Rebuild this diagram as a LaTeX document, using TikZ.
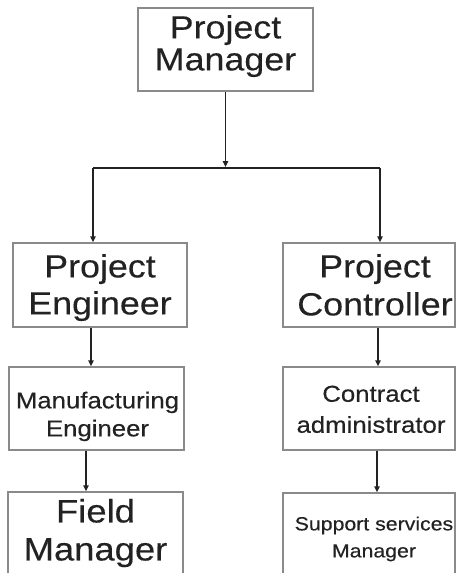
\documentclass[tikz,border=0pt]{standalone}
\usepackage{fontspec}
\usetikzlibrary{arrows.meta,calc}
\newfontfamily\labfont[FakeStretch=1.12,FakeBold=0.3]{Liberation Sans}
\definecolor{boxgray}{HTML}{8A8A8A}
\definecolor{inkc}{HTML}{222222}
\tikzset{
  orgbox/.style={draw=boxgray, line width=1.5pt, fill=white, rectangle, inner sep=0pt},
  txt/.style={text=inkc, inner sep=0pt, align=center, anchor=north},
  conn/.style={draw=inkc, line width=1.7pt, -{Triangle[length=6pt,width=5.5pt]}},
  busline/.style={draw=inkc, line width=2.8pt},
  drop/.style={draw=inkc, line width=2.1pt, -{Triangle[length=6pt,width=5.5pt]}},
}
\begin{document}
\begin{tikzpicture}[x=1pt,y=-1pt]
\useasboundingbox (0,0) rectangle (457,573);
\clip (0,0) rectangle (457,573);
% boxes
\node[orgbox, minimum width=175pt, minimum height=83pt] (pm) at (225.5,49.5) {};
\node[orgbox, minimum width=174pt, minimum height=84pt] (pe) at (100,285) {};
\node[orgbox, minimum width=172pt, minimum height=84pt] (pc) at (369,285) {};
\node[orgbox, minimum width=175pt, minimum height=83pt] (me) at (96.5,408.5) {};
\node[orgbox, minimum width=172pt, minimum height=83pt] (ca) at (369,408.5) {};
\node[orgbox, minimum width=175pt, minimum height=83pt] (fm) at (95.5,533.5) {};
\node[orgbox, minimum width=172pt, minimum height=83pt] (ssm) at (369,534.5) {};
% texts
\node[txt, font={\labfont\fontsize{32}{32}\selectfont}] (pmt) at (225.5,15) {Project\\Manager};
\node[txt, font={\labfont\fontsize{32}{37}\selectfont}] (pet) at (100,254) {Project\\Engineer};
\node[txt, font={\labfont\fontsize{32}{38}\selectfont}] (pct) at (375,254) {Project\\Controller};
\node[txt, font={\labfont\fontsize{23}{28}\selectfont}] (met) at (97.5,391.5) {Manufacturing\\Engineer};
\node[txt, font={\labfont\fontsize{23}{31}\selectfont}] (cat) at (371,385.5) {Contract\\administrator};
\node[txt, font={\labfont\fontsize{32.5}{38}\selectfont}] (fmt) at (95.5,498.7) {Field\\Manager};
\node[txt, font={\labfont\fontsize{19}{27}\selectfont}] (ssmt) at (374,516.4) {Support services\\Manager};
% bus
\coordinate (busmid) at (225.5,167);
\coordinate (busL) at (93,168);
\coordinate (busR) at (380,168);
\draw[conn] (pm) -- (busmid);
\draw[busline] (busL) -- (busR);
\draw[drop] (busL) -- (busL |- pe.north);
\draw[drop] (busR) -- (busR |- pc.north);
% chains
\draw[conn] ([xshift=-9pt]pe.south) -- ([xshift=-9pt]pe.south |- me.north);
\draw[conn] ([xshift=-10.5pt]me.south) -- ([xshift=-10.5pt]me.south |- fm.north);
\draw[conn] ([xshift=9pt]pc.south) -- ([xshift=9pt]pc.south |- ca.north);
\draw[conn] ([xshift=8pt]ca.south) -- ([xshift=8pt]ca.south |- ssm.north);
\end{tikzpicture}
\end{document}
